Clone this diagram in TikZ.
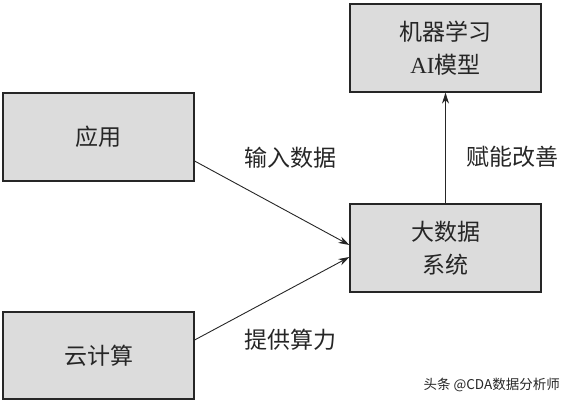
\documentclass[tikz,border=0pt]{standalone}
\usepackage{fontspec}
\setmainfont{Noto Sans CJK SC}
\newfontfamily\latinserif{Liberation Serif}
\usetikzlibrary{arrows.meta,calc}
\definecolor{boxfill}{HTML}{DCDCDC}
\definecolor{ink}{HTML}{262626}
\tikzset{
  blockbox/.style={draw=ink, line width=1.2pt, fill=boxfill, minimum width=191pt, minimum height=88pt, inner sep=0pt, align=center, text=ink, font=\fontsize{23}{33}\selectfont},
  conn/.style={draw=ink, line width=0.9pt, -{Stealth[length=11pt,width=7pt]}},
  lbl/.style={text=ink, font=\fontsize{23}{27}\selectfont, inner sep=0pt}
}
\begin{document}
\begin{tikzpicture}[x=1pt,y=-1pt]
\useasboundingbox (0,0) rectangle (565,405);
\node[blockbox] (app) at (98.5,137) {应用};
\node[blockbox, minimum height=87pt] (cloud) at (98.5,355.5) {云计算};
\node[blockbox] (big) at (445.5,248) {大数据\\系统};
\node[blockbox] (ml) at (445.5,48) {机器学习\\{\latinserif AI}模型};
\draw[conn] ($(app.east)+(0,24)$) -- ($(big.west)+(0,-3)$);
\draw[conn] ($(cloud.east)+(0,-15.5)$) -- ($(big.west)+(0,9)$);
\draw[conn] (big.north) -- (ml.south);
\node[lbl] (l1) at (290,158) {输入数据};
\node[lbl] (l2) at (290,340) {提供算力};
\node[lbl] (l3) at (512,157) {赋能改善};
\node[text=ink, font=\fontsize{13.5}{15}\selectfont, inner sep=0pt, anchor=east] (wm) at (560,385) {头条 @CDA数据分析师};
\end{tikzpicture}
\end{document}
